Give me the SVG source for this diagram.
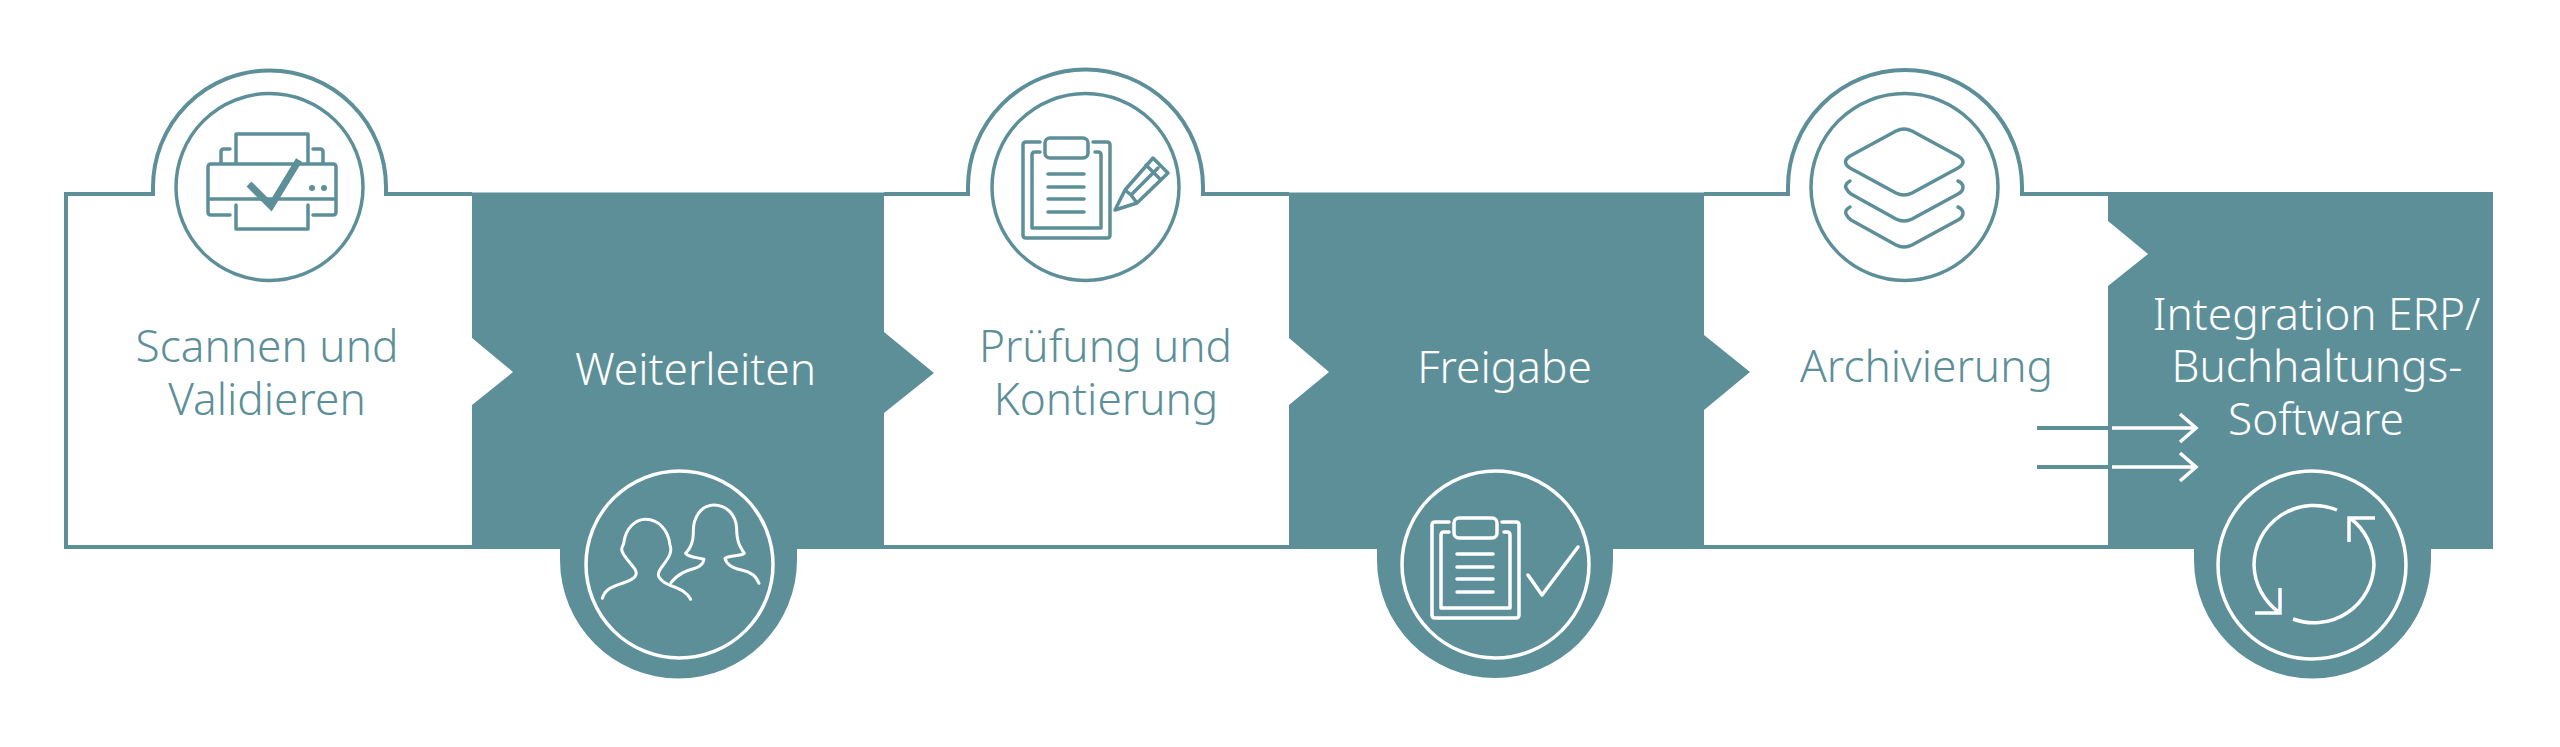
<svg xmlns="http://www.w3.org/2000/svg" width="2560" height="747" viewBox="0 0 2560 747">
<defs>
<style>
.fill{fill:#5d8f99}
.l{fill:none;stroke:#5d8f99;stroke-width:3.5;stroke-linejoin:round;stroke-linecap:round}
.w{fill:none;stroke:#fff;stroke-width:3.5;stroke-linejoin:round;stroke-linecap:round}
.o{fill:none;stroke:#5d8f99;stroke-width:4}
.t{font-family:"Noto Sans","Open Sans",sans-serif;font-size:44.200px;font-weight:300;text-anchor:middle}
.tt{fill:#5d8f99}
.tw{fill:#fff}
</style>
<g id="clip">
<path d="M17 4H3Q0 4 0 7V97Q0 100 3 100H84Q87 100 87 97V7Q87 4 84 4H70"/>
<path d="M17 14H12Q9 14 9 17V90H78V17Q78 14 75 14H72"/>
<rect x="22" y="0" width="43" height="20" rx="5"/>
<path d="M25 36H61M25 49H61M25 61H61M25 74H61"/>
</g>
</defs>
<rect width="2560" height="747" fill="#fff"/>
<g id="node-scannen">
<path class="o" d="M472 194H386V187A116.500 116.500 0 0 0 153 187V194H66V547H472"/>
<circle class="l" cx="269.500" cy="187" r="93.500"/>
<g class="l">
<path d="M230 215H211Q208 215 208 212V167Q208 164 211 164H333Q336 164 336 167V212Q336 215 333 215H313M208 199H336M236 164V134H308V164M236 205V229H308V205M230 149H224Q221 149 221 152V164M313 149H320Q323 149 323 152V164"/>
</g>
<circle cx="312" cy="188" r="3" class="fill"/><circle cx="324" cy="188" r="3" class="fill"/>
<path d="M249 184L271 206L299 160" fill="none" stroke="#5d8f99" stroke-width="7"/>
<text class="t tt"><tspan x="267" y="362">Scannen und</tspan><tspan x="267" y="415">Validieren</tspan></text>
</g>
<g id="node-weiterleiten">
<path class="fill" d="M472 192.500H884V332L934 373L884 413V549H797V560A118.500 118.500 0 0 1 560 560V549H472V405L513 372L472 338Z"/>
<circle class="w" cx="679.500" cy="564.500" r="93.500"/>
<g transform="translate(500 280) scale(.3333)" fill="none" stroke="#fff" stroke-width="9" stroke-linecap="round" stroke-linejoin="round">
<path d="M307 955C318 920 350 918 380 905C405 895 415 885 405 868C390 845 365 825 365 808C365 800 372 795 372 785C378 745 405 718 437 718C475 718 505 750 510 795C518 815 505 835 490 855C470 880 470 890 490 905C520 925 555 925 572 958"/>
<path d="M513 908C535 880 560 872 585 865C600 860 610 850 612 838C590 832 565 832 557 820C572 805 580 790 580 760C578 710 605 675 642 675C680 675 708 705 710 745C710 785 720 800 733 820C720 830 695 825 675 835C680 855 700 865 725 870C750 875 770 890 777 910"/>
</g>
<text class="t tw" x="695.500" y="385">Weiterleiten</text>
</g>
<g id="node-pruefung">
<path class="o" d="M1289 194H1203V187A117.500 117.500 0 0 0 968 187V194H884M884 547H1289"/>
<circle class="l" cx="1085.500" cy="187" r="93.500"/>
<use href="#clip" x="1023" y="138" class="l"/>
<path class="l" d="M1115 210L1125 190L1153 158L1168 173L1137 203ZM1125 190L1131 195L1137 203M1131 195L1158 168M1146 165L1161 180"/>
<text class="t tt"><tspan x="1105.500" y="362">Prüfung und</tspan><tspan x="1106" y="415">Kontierung</tspan></text>
</g>
<g id="node-freigabe">
<path class="fill" d="M1289 192.500H1704V335L1750 372L1704 410V549H1613V560A118 118 0 0 1 1377 560V549H1289V405L1329 372L1289 338Z"/>
<circle class="w" cx="1495.500" cy="564.500" r="93.500"/>
<use href="#clip" x="1432" y="518" class="w"/>
<path class="w" d="M1528 575L1542 595L1578 547"/>
<text class="t tw" x="1504.500" y="383">Freigabe</text>
</g>
<g id="node-archivierung">
<path class="o" d="M2108 194H2022V187A117 117 0 0 0 1788 187V194H1704M1704 547H2108"/>
<circle class="l" cx="1904.500" cy="187" r="93.500"/>
<path class="l" d="M1896 131Q1904 127 1912 131L1958 156Q1968 162 1958 168L1912 193Q1904 197 1896 193L1850 168Q1841 162 1850 156Z"/>
<path class="l" d="M1850 181C1846 183 1845 187 1846 188C1847 190 1848 192 1851 194L1896 219Q1904 223 1912 219L1958 194C1962 192 1963 190 1963 187C1963 185 1961 182 1958 181"/>
<path class="l" d="M1850 207C1846 209 1845 212 1846 214C1847 216 1848 218 1851 220L1896 245Q1904 249 1912 245L1958 220C1962 218 1963 216 1963 213C1963 211 1961 208 1958 207"/>
<text class="t tt" x="1926.500" y="382">Archivierung</text>
</g>
<g id="node-integration">
<path class="fill" d="M2108 192H2493V549H2431V560A118.500 118.500 0 0 1 2194 560V549H2108V286L2148 254L2108 221Z"/>
<circle class="w" cx="2312" cy="565" r="94"/>
<path class="w" d="M2337 510A60 60 0 0 0 2254 565A60 60 0 0 0 2280 613M2255 613H2280V588M2293 619A60 60 0 0 0 2374 565A60 60 0 0 0 2350 518M2375 518H2349V542" style="stroke-linecap:butt;stroke-linejoin:miter"/>
<text class="t tw"><tspan x="2316.500" y="330">Integration ERP/</tspan><tspan x="2317" y="382">Buchhaltungs-</tspan><tspan x="2316" y="435">Software</tspan></text>
</g>
<g id="connectors">
<path d="M2037 428H2108M2037 467H2108" fill="none" stroke="#5d8f99" stroke-width="4"/>
<path d="M2112 428H2195M2180 414L2196 428L2180 442M2112 467H2195M2180 453L2196 467L2180 481" fill="none" stroke="#fff" stroke-width="3.500"/>
</g>
</svg>
